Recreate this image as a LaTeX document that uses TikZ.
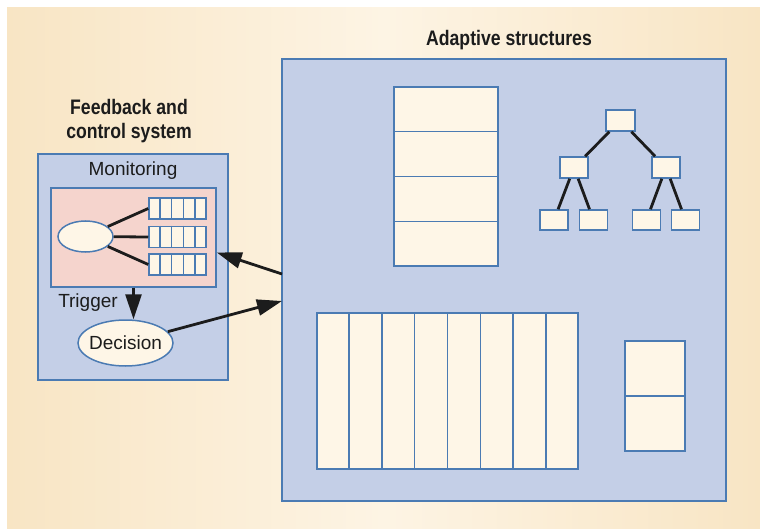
\documentclass[tikz,border=0pt]{standalone}
\usepackage{fontspec}
\setmainfont{Liberation Sans}
\newfontfamily\titlefont[FakeStretch=0.84]{Liberation Sans Bold}
\usetikzlibrary{shapes.geometric,arrows.meta,calc}

\definecolor{bgside}{HTML}{F8E5C4}
\definecolor{bgmid}{HTML}{FDF4E4}
\definecolor{panelblue}{HTML}{C4CFE7}
\definecolor{edgeblue}{HTML}{4B7BB3}
\definecolor{monpink}{HTML}{F5D4CD}
\definecolor{cellfill}{HTML}{FEF6E7}
\definecolor{ink}{HTML}{1C1C1C}

\tikzset{
  panel/.style={draw=edgeblue,fill=panelblue,line width=1.5pt,inner sep=0pt},
  monbox/.style={draw=edgeblue,fill=monpink,line width=1.5pt,inner sep=0pt},
  cellbox/.style={draw=edgeblue,fill=cellfill,line width=1.5pt,inner sep=0pt},
  divider/.style={draw=edgeblue,line width=1.5pt},
  oval/.style={ellipse,draw=edgeblue,fill=cellfill,line width=1.5pt,inner sep=0pt},
  link/.style={draw=ink,line width=2.8pt},
  arr/.style={draw=ink,line width=2.8pt,-{Triangle[length=25pt,width=16pt]}},
  title/.style={font=\titlefont\fontsize{21}{24}\selectfont,text=ink,align=center},
  lbl/.style={font=\fontsize{19}{22}\selectfont,text=ink}
}

\begin{document}
\begin{tikzpicture}[x=1pt,y=-1pt]
  \useasboundingbox (0,0) rectangle (760,529);
  \shade[left color=bgside,right color=bgside,middle color=bgmid] (7,8) rectangle (760,529);

  % feedback and control side
  \node[panel] (fb) at (133,267) [minimum width=190pt,minimum height=226pt] {};
  \node[title] (fbtitle) at (129,121) {Feedback and\\control system};
  \node[lbl] (montext) at (133,171) {Monitoring};
  \node[monbox] (mon) at (133.5,237.5) [minimum width=165pt,minimum height=99pt] {};
  \node[oval] (src) at (85.5,236.5) [minimum width=55pt,minimum height=31pt] {};
  \node[cellbox] (q1) at (177.5,208.5) [minimum width=57pt,minimum height=21pt] {};
  \node[cellbox] (q2) at (177.5,237) [minimum width=57pt,minimum height=21pt] {};
  \node[cellbox] (q3) at (177.5,264.5) [minimum width=57pt,minimum height=21pt] {};
  \foreach \q in {q1,q2,q3}
    \foreach \i in {1,...,4}
      \draw[divider] ($(\q.north west)!\i/5!(\q.north east)$) -- ($(\q.south west)!\i/5!(\q.south east)$);
  \path[link] (src) edge (q1.west) edge (q2.west) edge (q3.west);
  \node[oval] (dec) at (125.5,343) [minimum width=95pt,minimum height=46pt] {};
  \node[lbl] (dectext) at (dec) {Decision};
  \node[lbl,anchor=base] (trig) at (88,307) {Trigger};
  \draw[arr] (mon.south) -- (mon.south |- dec.north);

  % adaptive structures side
  \node[panel] (adapt) at (504,280) [minimum width=444pt,minimum height=442pt] {};
  \node[title] (adtitle) at (509,40) {Adaptive structures};
  \node[cellbox] (stack) at (446,176.5) [minimum width=104pt,minimum height=179pt] {};
  \foreach \i in {1,2,3}
    \draw[divider] ($(stack.north west)!\i/4!(stack.south west)$) -- ($(stack.north east)!\i/4!(stack.south east)$);

  \node[cellbox] (root) at (620.5,120.5) [minimum width=29pt,minimum height=21pt] {};
  \node[cellbox] (l) at (574,167.5) [minimum width=28pt,minimum height=21pt] {};
  \node[cellbox] (r) at (666,167.5) [minimum width=28pt,minimum height=21pt] {};
  \node[cellbox] (ll) at (554,220) [minimum width=28pt,minimum height=20pt] {};
  \node[cellbox] (lr) at (593.5,220) [minimum width=28pt,minimum height=20pt] {};
  \node[cellbox] (rl) at (646.5,220) [minimum width=28pt,minimum height=20pt] {};
  \node[cellbox] (rr) at (685.5,220) [minimum width=28pt,minimum height=20pt] {};
  \path[link]
    (root) edge (l) edge (r)
    (l) edge (ll) edge (lr)
    (r) edge (rl) edge (rr);

  \node[cellbox] (wide) at (447.5,391) [minimum width=261pt,minimum height=156pt] {};
  \foreach \i in {1,...,7}
    \draw[divider] ($(wide.north west)!\i/8!(wide.north east)$) -- ($(wide.south west)!\i/8!(wide.south east)$);
  \node[cellbox] (pair) at (655,396) [minimum width=60pt,minimum height=110pt] {};
  \draw[divider] (pair.west) -- (pair.east);

  % connections between the two sides
  \coordinate (out) at (282,274);
  \coordinate (in) at (282,301);
  \draw[arr] (out) -- ([yshift=-15pt]mon.east);
  \draw[arr] (dec) -- (in);
\end{tikzpicture}
\end{document}
